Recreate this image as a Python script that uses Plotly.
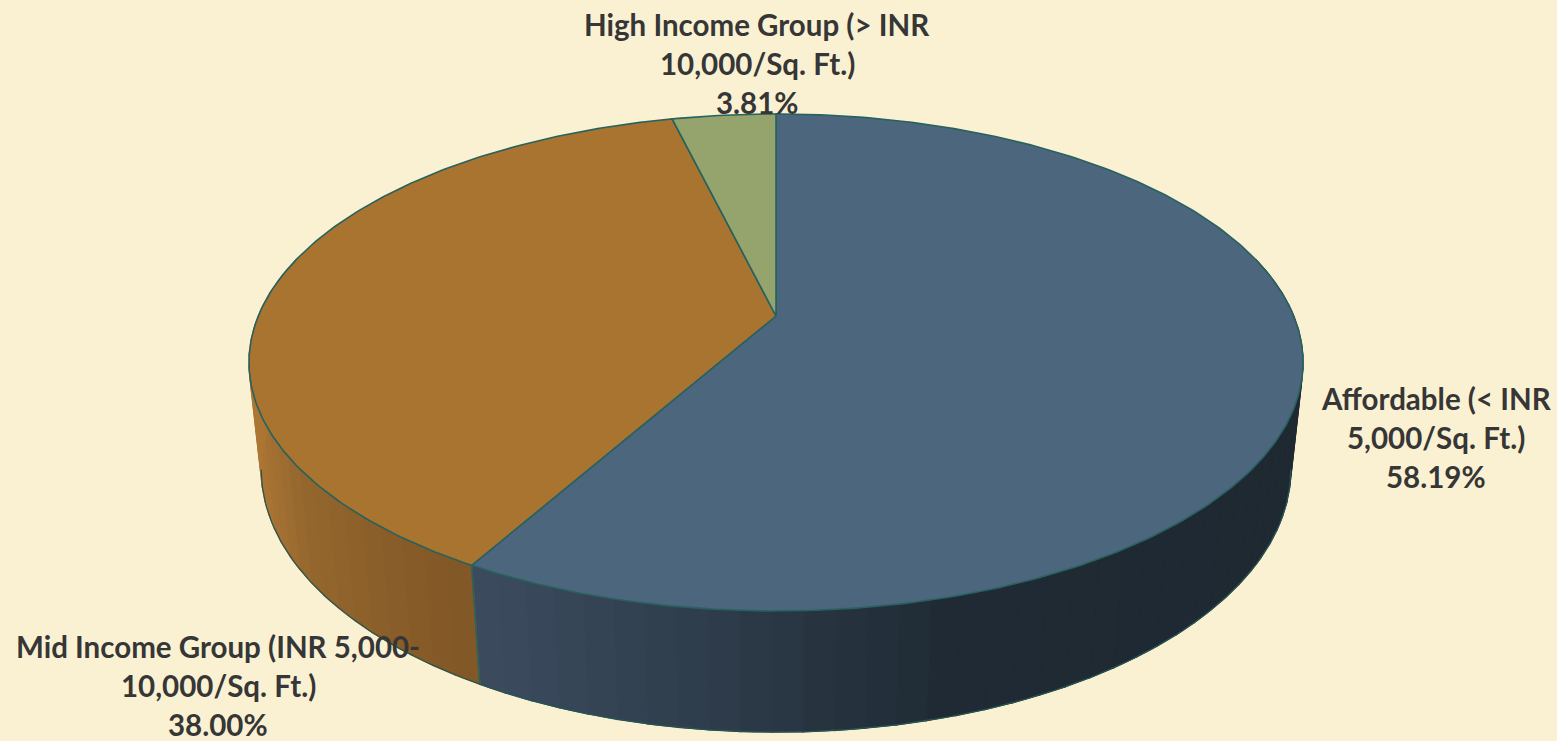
import numpy as np
import plotly.graph_objects as go

# ---- data ----
categories = ["Affordable (< INR 5,000/Sq. Ft.)",
              "Mid Income Group (INR 5,000-10,000/Sq. Ft.)",
              "High Income Group (> INR 10,000/Sq. Ft.)"]
shares = [58.19, 38.00, 3.81]
label_lines = [["Affordable (< INR", "5,000/Sq. Ft.)"],
               ["Mid Income Group (INR 5,000-", "10,000/Sq. Ft.)"],
               ["High Income Group (> INR", "10,000/Sq. Ft.)"]]
top_colors = ["#4c667d", "#a9742f", "#95a36c"]
# wall shading stops: (x position in page, colour)
wall_stops = [
    [(470, (60, 76, 94)), (700, (47, 61, 76)), (950, (31, 42, 52)), (1310, (30, 41, 50))],
    [(250, (172, 118, 52)), (300, (148, 103, 46)), (400, (136, 92, 40)), (480, (128, 86, 38))],
    [(600, (120, 130, 90)), (800, (120, 130, 90))],
]

# ---- perspective model of the disc ----
CX, CY = 776.0, 316.0
A, B, K = 517.7, 239.8, 0.187
DROP_N, DROP_M = 108.0, 0.023
EDGE = "#27625f"
TEXT = "#363636"
BG = "#faf1d3"


def project(theta, z=0.0):
    """theta is clockwise from 12 o'clock, z = 0 on top face, 1 on bottom rim."""
    X, Y = np.sin(theta), np.cos(theta)
    d = 1 + K * Y + DROP_M * z
    return CX + A * X / d, CY + (-B * Y + DROP_N * z) / d


def shade(stops, x):
    xs = [s[0] for s in stops]
    c = [np.interp(x, xs, [s[1][i] for s in stops]) for i in range(3)]
    return "rgb(%d,%d,%d)" % tuple(int(round(v)) for v in c)


fractions = np.array(shares) / sum(shares)
edges = np.concatenate([[0], np.cumsum(fractions)]) * 2 * np.pi

fig = go.Figure()

# side walls: narrow bands so the shading runs along the rim
for i in range(len(shares)):
    lo, hi = max(edges[i], np.pi / 2 - 0.25), min(edges[i + 1], 3 * np.pi / 2 + 0.25)
    if hi <= lo:
        continue
    n = max(int((hi - lo) / 0.05), 1)
    cuts = np.linspace(lo, hi, n + 1)
    for a, b in zip(cuts[:-1], cuts[1:]):
        t = np.linspace(a, b, 4)
        x1, y1 = project(t, 0)
        x2, y2 = project(t[::-1], 1)
        col = shade(wall_stops[i], float(np.mean(x1)))
        fig.add_trace(go.Scatter(x=np.r_[x1, x2, x1[0]], y=np.r_[y1, y2, y1[0]],
                                 mode="lines", fill="toself", fillcolor=col,
                                 line=dict(color=col, width=1.5), hoverinfo="skip",
                                 showlegend=False))
    # vertical seam where a slice ends on the visible rim
    for e in (edges[i], edges[i + 1]):
        if np.pi / 2 < e < 3 * np.pi / 2:
            xe, ye = zip(project(e, 0), project(e, 1))
            fig.add_trace(go.Scatter(x=xe, y=ye, mode="lines", hoverinfo="skip",
                                     line=dict(color=EDGE, width=1.5), showlegend=False))

# lower outline, running between the two tangent points of the rim
t = np.linspace(np.pi / 2 + 0.184, 3 * np.pi / 2 - 0.184, 200)
xb, yb = project(t, 1)
fig.add_trace(go.Scatter(x=xb, y=yb, mode="lines", hoverinfo="skip",
                         line=dict(color="#245654", width=1.2), showlegend=False))

# top face
for i, name in enumerate(categories):
    t = np.linspace(edges[i], edges[i + 1], max(int((edges[i + 1] - edges[i]) * 80), 8))
    xr, yr = project(t)
    fig.add_trace(go.Scatter(x=np.r_[CX, xr, CX], y=np.r_[CY, yr, CY], name=name,
                             mode="lines", fill="toself", fillcolor=top_colors[i],
                             line=dict(color=EDGE, width=1.6), hoverinfo="name",
                             showlegend=False))

# labels: category lines then the share
label_x = [1436, 218, 757]
label_y = [398, 646, 24]
line_gap = 39
for i, lines in enumerate(label_lines):
    for j, txt in enumerate(lines + ["%.2f%%" % shares[i]]):
        fig.add_annotation(x=label_x[i], y=label_y[i] + j * line_gap, text=txt,
                           showarrow=False, xanchor="center", yanchor="middle",
                           font=dict(family="Lato, Open Sans, sans-serif", size=29.5,
                                     color=TEXT, weight="bold"))

fig.update_layout(width=1557, height=741, margin=dict(l=0, r=0, t=0, b=0),
                  paper_bgcolor=BG, plot_bgcolor=BG, showlegend=False,
                  xaxis=dict(range=[0, 1557], visible=False, fixedrange=True),
                  yaxis=dict(range=[741, 0], visible=False, fixedrange=True))

fig.write_html("out.html", config={"displayModeBar": False},
               post_script="document.body.style.margin='0';document.body.style.overflow='hidden';document.body.style.background='%s';" % BG)
